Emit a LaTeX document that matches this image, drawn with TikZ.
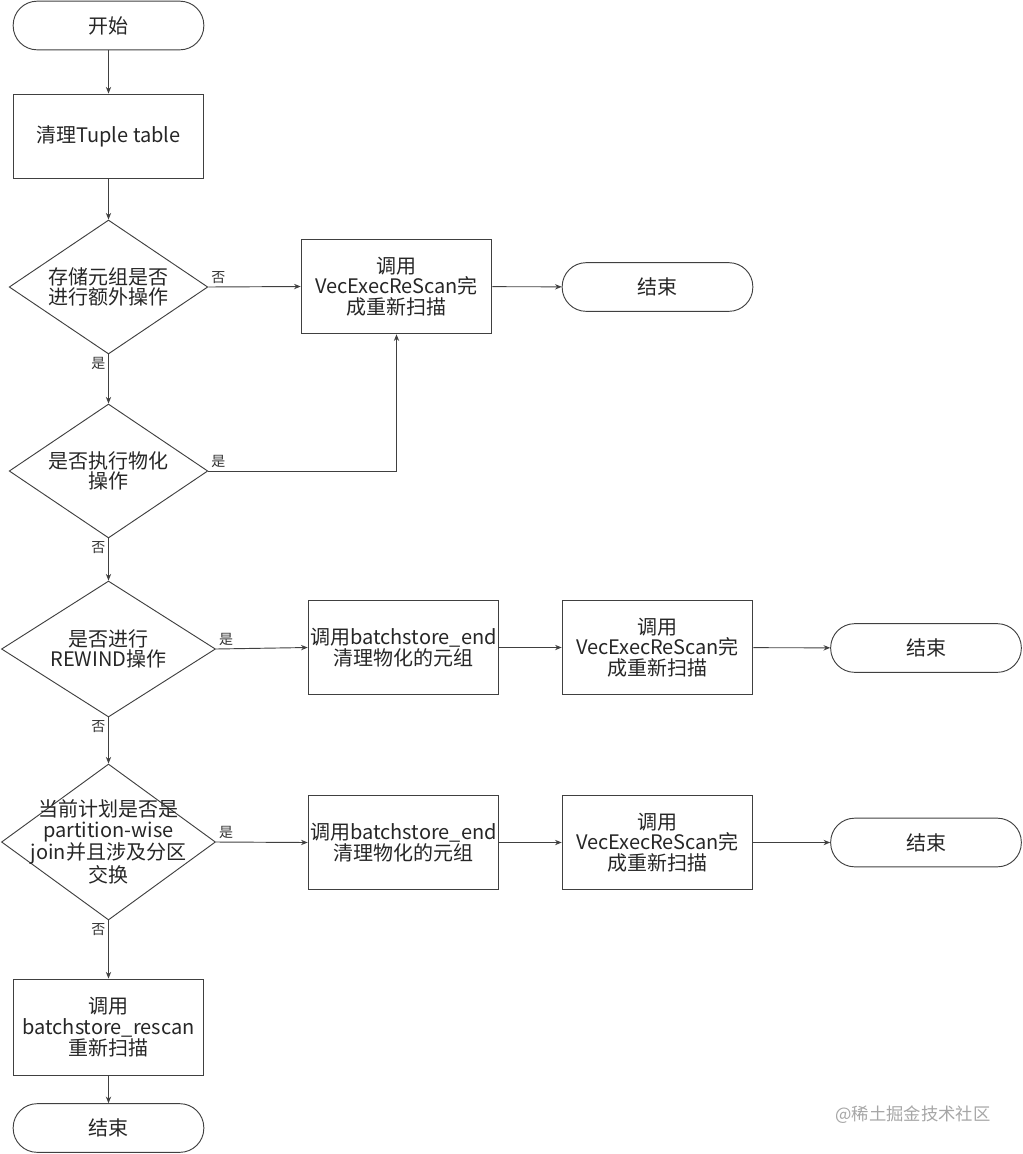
\documentclass[tikz,border=0pt]{standalone}
\usepackage{fontspec}
\setmainfont{Noto Sans CJK SC}
\usetikzlibrary{shapes.geometric,arrows.meta}

\definecolor{linegray}{HTML}{404040}

\tikzset{
  base/.style={draw=linegray, line width=0.7pt, text=black!85, font=\fontsize{15}{15.5}\selectfont, align=center},
  terminal/.style={base, rectangle, rounded corners=18pt, minimum width=143pt, minimum height=36.5pt},
  procbox/.style={base, rectangle, inner sep=1pt, minimum width=143pt, minimum height=71pt},
  decision/.style={base, diamond, inner sep=0pt},
  dtext/.style={text=black!85, font=\fontsize{15}{15.5}\selectfont, align=center},
  ylabel/.style={font=\fontsize{10.5}{11}\selectfont, text=black!80, inner sep=2pt},
  flow/.style={draw=linegray, line width=0.7pt, ->},
}

\begin{document}
\begin{tikzpicture}[x=0.75pt, y=-0.75pt, >={Stealth[length=5pt,width=4pt]}]
%\draw [help lines,black!20!white] (0,0) grid[step=100] (1023,1154);
\useasboundingbox (0,0) rectangle (1023,1154);

\node[terminal] (start) at (108.5,25.5) {开始};
\node[procbox, minimum height=63pt] (clean) at (108.5,136) {清理Tuple table};
\node[decision, minimum width=149pt, minimum height=100.5pt,
  label={[dtext]center:{存储元组是否\\进行额外操作}}] (q1) at (108.5,287) {};
\node[procbox] (scan1) at (396.5,286.5) {调用\\VecExecReScan完\\成重新扫描};
\node[terminal] (end1) at (657.5,287) {结束};

\node[decision, minimum width=149pt, minimum height=100.5pt,
  label={[dtext]center:{是否执行物化\\操作}}] (q2) at (108.5,471) {};

\node[decision, minimum width=160.5pt, minimum height=102pt,
  label={[dtext]center:{是否进行\\REWIND操作}}] (q3) at (108.5,649) {};
\node[procbox] (clr1) at (403.5,647.5) {调用batchstore\_end\\清理物化的元组};
\node[procbox] (scan2) at (657.5,647.5) {调用\\VecExecReScan完\\成重新扫描};
\node[terminal] (end2) at (926,648) {结束};

\node[decision, minimum width=160.5pt, minimum height=117pt,
  label={[dtext]center:{当前计划是否是\\partition-wise\\join并且涉及分区\\交换}}] (q4) at (108.5,842) {};
\node[procbox] (clr2) at (403.5,842.5) {调用batchstore\_end\\清理物化的元组};
\node[procbox] (scan3) at (657.5,842.5) {调用\\VecExecReScan完\\成重新扫描};
\node[terminal] (end3) at (926,842.5) {结束};

\node[procbox, minimum height=72pt] (rescan) at (108.5,1027) {调用\\batchstore\_rescan\\重新扫描};
\node[terminal] (end4) at (108.5,1128) {结束};

\draw[flow] (start) -- (clean);
\draw[flow] (clean) -- (q1);
\draw[flow] (q1.east) -- node[ylabel, pos=0, above right] {否} (scan1.west);
\draw[flow] (scan1) -- (end1);
\draw[flow] (q1.south) -- node[ylabel, pos=0, below left] {是} (q2.north);
\draw[flow] (q2.east) -- node[ylabel, pos=0, above right] {是} (q2.east -| scan1.south) -- (scan1.south);
\draw[flow] (q2.south) -- node[ylabel, pos=0, below left] {否} (q3.north);

\draw[flow] (q3.east) -- node[ylabel, pos=0, above right] {是} (clr1.west);
\draw[flow] (clr1) -- (scan2);
\draw[flow] (scan2) -- (end2);
\draw[flow] (q3.south) -- node[ylabel, pos=0, below left] {否} (q4.north);

\draw[flow] (q4.east) -- node[ylabel, pos=0, above right] {是} (clr2.west);
\draw[flow] (clr2) -- (scan3);
\draw[flow] (scan3) -- (end3);
\draw[flow] (q4.south) -- node[ylabel, pos=0, below left] {否} (rescan.north);
\draw[flow] (rescan) -- (end4);

\node[text=black!35, font=\fontsize{13}{14}\selectfont] (mark) at (913,1115) {@稀土掘金技术社区};

\end{tikzpicture}
\end{document}
